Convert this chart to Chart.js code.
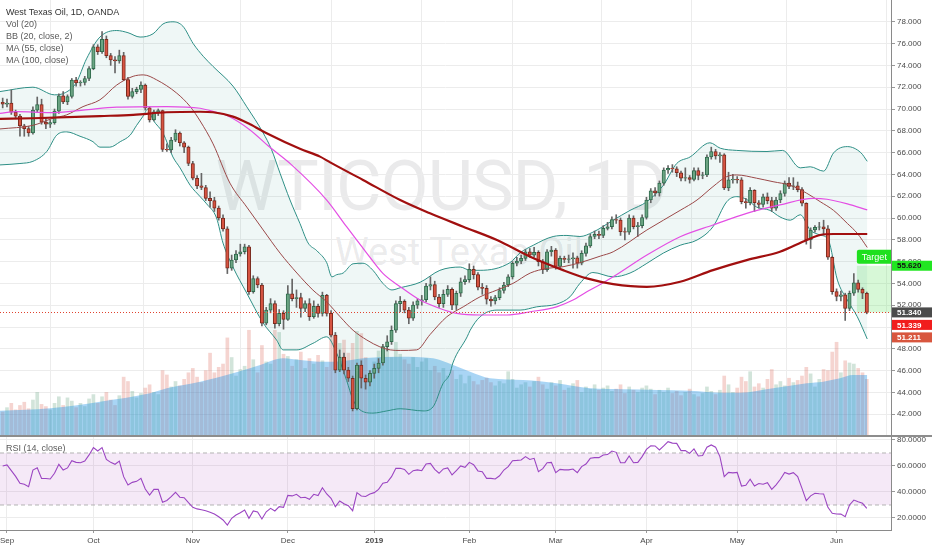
<!DOCTYPE html>
<html>
<head>
<meta charset="utf-8">
<title>West Texas Oil, 1D, OANDA</title>
<script src="https://cdn.jsdelivr.net/npm/chart.js@4.4.1/dist/chart.umd.min.js"></script>
<style>
  html, body { margin:0; padding:0; background:#ffffff; }
  #wrap { position:relative; width:932px; height:550px; overflow:hidden; background:#ffffff; font-family:"Liberation Sans", Arial, sans-serif; }
  #c1, #c2 { position:absolute; left:0; z-index:1; }
  #c1 { top:0; }
  #c2 { top:427px; }
  .wm { position:absolute; left:0; text-align:center; white-space:nowrap; color:rgba(60,60,70,0.11); font-family:Roboto, "Liberation Sans", sans-serif; z-index:0; line-height:1; }
  #wm1 { top:151px; width:882px; font-size:70px; letter-spacing:-1px; }
  #wm2 { top:233px; width:918px; font-size:38px; }
  .lg { position:absolute; left:6px; font-size:9px; line-height:12px; color:#5a5a5a; z-index:2; white-space:nowrap; }
  #sep { position:absolute; left:0; top:435px; width:932px; height:2px; background:#8d8d8d; z-index:3; }
</style>
</head>
<body>
<div id="wrap">
  <div class="wm" id="wm1">WTICOUSD, 1D</div>
  <div class="wm" id="wm2">West Texas Oil</div>
  <canvas id="c1" width="932" height="436"></canvas>
  <canvas id="c2" width="932" height="123"></canvas>
  <div id="sep"></div>
  <div class="lg" style="top:6px"><span style="color:#333">West Texas Oil, 1D, OANDA</span><br>Vol (20)<br>BB (20, close, 2)<br>MA (55, close)<br>MA (100, close)</div>
  <div class="lg" style="top:442px">RSI (14, close)</div>
</div>
<script>
// ---------------- DATA ----------------
const months = ['Sep','Oct','Nov','Dec','2019','Feb','Mar','Apr','May','Jun'];
const monthStart = [1,21,44,66,86,108,128,149,170,193];
const viewStart = -0.62, viewEnd = 205.6;

const open = [
70.62,70.45,70.55,69.7,69.35,68.45,68.2,67.8,69.9,70.4,
68.8,68.6,68.75,69.8,71.2,70.65,71.15,72.65,72.4,72.45,
72.8,73.7,75.7,75.25,76.4,74.9,74.5,74.4,74.9,72.7,
71.15,71.6,71.8,72.2,70.1,69.0,69.75,69.85,66.3,66.25,
67.15,67.8,66.9,66.5,65.0,63.65,62.95,62.8,61.8,61.6,
60.9,60.0,59.0,55.4,56.15,56.7,56.9,57.35,53.25,54.45,
53.85,50.35,51.55,52.15,50.3,51.25,50.7,53.05,52.6,52.7,
51.7,52.15,50.95,51.9,51.25,52.9,51.25,49.25,46.05,47.25,
46.05,45.3,42.5,46.5,45.3,44.95,45.75,46.2,46.7,48.2,
48.65,49.7,52.15,52.35,51.55,50.8,52.0,52.4,52.5,53.75,
53.9,52.75,52.15,53.0,53.45,52.0,53.1,54.15,54.35,55.3,
54.8,53.65,53.55,52.55,52.4,52.7,53.35,53.85,54.6,55.85,
56.05,56.3,56.9,56.6,56.85,56.0,55.25,56.9,57.05,55.55,
56.3,56.2,56.25,56.35,55.85,56.75,57.45,58.3,58.5,58.4,
59.05,59.2,59.85,59.8,58.75,58.7,60.0,59.2,59.3,60.05,
61.65,62.5,62.3,63.2,64.4,64.55,64.5,64.15,63.65,63.7,
63.55,64.35,63.9,63.95,65.6,66.1,65.7,65.8,62.75,63.5,
63.55,63.5,61.5,61.4,62.55,61.4,61.25,61.95,61.6,60.9,
61.65,62.25,63.2,62.9,62.95,62.6,61.35,58.0,58.9,59.15,
59.2,59.0,56.4,53.25,52.8,52.95,51.7,53.1,54.05,53.45,
53.1];
const high = [
71.0,70.9,71.75,69.9,69.5,68.6,68.4,70.2,71.1,70.9,
69.2,69.0,70.0,71.4,71.6,71.3,72.8,72.9,72.6,73.0,
73.9,75.9,75.9,77.1,76.7,75.1,74.8,75.4,75.2,72.9,
71.9,72.0,72.5,72.3,70.2,69.9,70.0,69.9,66.8,67.4,
68.1,67.9,67.0,66.6,65.2,63.9,64.1,63.0,62.4,61.9,
61.1,60.3,59.2,56.6,57.0,57.6,57.6,57.5,54.7,54.6,
54.0,51.8,52.6,52.4,51.6,51.5,53.8,54.4,53.4,53.1,
52.4,52.6,52.4,52.1,53.2,53.0,51.5,49.5,47.9,47.6,
46.3,45.5,46.7,46.9,45.6,46.0,46.6,47.1,48.4,49.2,
50.1,52.4,52.8,52.5,51.8,52.3,52.6,52.9,54.0,54.6,
54.2,53.0,53.4,53.8,53.6,53.3,54.5,54.7,55.8,55.6,
55.0,54.0,53.8,52.8,52.9,53.6,54.1,54.8,56.0,56.4,
56.6,57.1,57.2,57.3,57.0,56.2,57.1,57.4,57.2,56.5,
56.5,56.6,56.8,56.5,57.0,57.7,58.5,58.8,58.8,59.3,
59.6,60.1,60.3,60.0,59.1,60.3,60.2,59.6,60.3,61.9,
62.7,62.8,63.4,64.6,64.8,64.9,64.7,64.3,64.6,63.9,
64.6,64.6,64.2,65.8,66.5,66.3,66.0,65.9,64.2,64.0,
63.8,63.7,61.8,62.8,62.6,61.6,62.2,62.3,61.9,61.9,
62.5,63.4,63.7,63.7,63.3,62.8,61.4,59.1,59.3,59.6,
59.8,59.3,56.5,53.5,53.3,53.1,53.3,54.9,54.3,53.6,
53.2];
const low = [
70.1,70.2,69.5,69.1,67.5,67.5,67.5,67.7,69.7,68.6,
68.2,68.3,68.6,69.6,70.5,70.4,71.0,72.1,72.1,72.2,
72.6,73.6,75.0,75.1,74.7,74.0,73.3,74.2,72.6,70.9,
71.0,71.4,71.5,69.9,68.8,68.9,69.4,66.1,66.1,66.0,
67.0,66.6,66.0,64.8,63.5,62.7,62.6,61.6,61.0,60.6,
59.8,58.8,54.9,55.2,55.9,56.5,56.7,53.0,53.1,53.6,
50.1,50.2,51.3,49.9,50.1,49.8,50.6,52.4,51.8,50.9,
51.4,50.6,50.8,50.9,51.0,51.0,49.1,45.8,45.9,45.7,
45.0,42.3,42.4,44.4,44.3,44.6,45.3,45.8,46.5,47.8,
48.4,49.5,51.4,51.3,50.3,50.6,51.7,52.0,52.3,53.4,
52.5,51.8,51.8,52.8,51.6,51.6,52.8,53.9,54.1,54.4,
53.4,53.0,52.1,51.9,52.1,52.5,53.1,53.7,54.4,55.6,
55.8,56.1,56.4,56.4,55.6,54.9,55.1,56.5,55.3,55.4,
55.9,55.9,55.4,55.4,55.7,56.5,57.3,58.1,58.1,58.2,
58.9,59.0,59.5,58.4,58.0,58.5,59.0,58.3,59.1,59.9,
61.4,62.0,62.0,63.0,64.1,64.2,63.8,63.4,63.4,63.2,
63.4,63.5,63.6,63.8,65.4,65.4,65.1,62.6,62.5,63.2,
63.2,61.3,60.9,61.2,60.6,60.9,61.0,61.3,60.6,60.7,
61.4,62.0,62.7,62.6,62.4,61.1,57.6,57.2,58.7,58.9,
58.5,56.2,53.0,52.4,52.4,50.6,51.5,52.9,53.2,52.6,
51.21];
const close = [
70.45,70.55,69.7,69.35,68.45,68.2,67.8,69.9,70.4,68.8,
68.6,68.75,69.8,71.2,70.65,71.15,72.65,72.4,72.45,72.8,
73.7,75.7,75.25,76.4,74.9,74.5,74.4,74.9,72.7,71.15,
71.6,71.8,72.2,70.1,69.0,69.75,69.85,66.3,66.25,67.15,
67.8,66.9,66.5,65.0,63.65,62.95,62.8,61.8,61.6,60.9,
60.0,59.0,55.4,56.15,56.7,56.9,57.35,53.25,54.45,53.85,
50.35,51.55,52.15,50.3,51.25,50.7,53.05,52.6,52.7,51.7,
52.15,50.95,51.9,51.25,52.9,51.25,49.25,46.05,47.25,46.05,
45.3,42.5,46.5,45.3,44.95,45.75,46.2,46.7,48.2,48.65,
49.7,52.15,52.35,51.55,50.8,52.0,52.4,52.5,53.75,53.9,
52.75,52.15,53.0,53.45,52.0,53.1,54.15,54.35,55.3,54.8,
53.65,53.55,52.55,52.4,52.7,53.35,53.85,54.6,55.85,56.05,
56.3,56.9,56.6,56.85,56.0,55.25,56.9,57.05,55.55,56.3,
56.2,56.25,56.35,55.85,56.75,57.45,58.3,58.5,58.4,59.05,
59.2,59.85,59.8,58.75,58.7,60.0,59.2,59.3,60.05,61.65,
62.5,62.3,63.2,64.4,64.55,64.5,64.15,63.65,63.7,63.55,
64.35,63.9,63.95,65.6,66.1,65.7,65.8,62.75,63.5,63.55,
63.5,61.5,61.4,62.55,61.4,61.25,61.95,61.6,60.9,61.65,
62.25,63.2,62.9,62.95,62.6,61.35,58.0,58.9,59.15,59.2,
59.0,56.4,53.25,52.8,52.95,51.7,53.1,54.05,53.45,53.1,
51.34];
const volume = [
22,26,30,24,28,31,25,33,40,29,
27,24,30,36,28,35,32,26,30,27,
34,38,30,36,40,33,28,37,54,50,
41,35,39,44,47,40,38,60,56,45,
50,46,52,58,62,54,49,60,76,58,
63,66,90,72,55,61,64,97,70,58,
83,68,66,97,95,75,73,64,70,77,
62,71,66,74,69,63,97,92,85,88,
76,85,96,94,72,60,68,78,74,80,
72,86,75,70,66,72,63,68,71,60,
64,58,62,55,60,52,56,48,55,50,
47,51,53,49,46,50,48,59,52,44,
47,49,45,50,54,47,43,49,46,51,
42,44,48,51,40,45,43,47,42,44,
46,41,43,47,39,45,42,40,44,46,
43,38,42,40,44,39,41,37,40,43,
38,36,39,45,41,38,42,55,47,40,
44,54,50,59,45,48,44,52,61,47,
50,46,53,49,51,55,63,57,45,52,
61,60,77,86,58,69,67,66,62,58,
52];
const rsi = [
60.0,60.8,56.5,52.0,46.7,45.9,44.1,56.9,58.7,50.5,
50.4,50.0,54.4,61.3,56.9,58.5,64.1,62.8,62.5,63.8,
68.5,74.1,71.5,74.1,65.1,62.8,61.3,63.8,51.8,45.4,
47.4,48.2,50.5,42.3,37.7,42.0,42.0,32.1,33.5,36.4,
39.8,36.0,35.6,31.8,28.2,27.0,26.3,25.6,24.5,23.1,
21.0,18.5,14.6,19.8,22.3,24.0,26.2,19.8,25.4,24.6,
19.2,24.8,27.4,25.4,28.7,28.2,37.4,37.0,38.2,35.6,
36.0,34.4,38.2,37.2,43.3,38.5,35.1,28.7,33.1,31.0,
29.5,25.6,39.5,36.9,36.5,38.5,39.5,42.0,46.7,47.5,
51.8,58.2,58.2,57.4,53.6,56.4,57.0,56.4,61.5,62.0,
57.4,54.4,57.7,58.5,53.1,56.5,60.0,59.0,62.8,61.0,
56.2,55.6,50.5,50.5,50.0,52.5,56.9,59.5,64.1,64.3,
64.6,67.2,65.0,65.9,55.6,58.0,62.5,62.8,54.9,57.4,
57.0,57.0,57.7,54.9,59.5,61.5,65.9,66.4,66.4,68.5,
68.8,71.5,70.5,62.5,62.6,67.7,62.5,62.8,67.2,72.8,
75.6,75.4,72.3,75.4,78.7,77.6,77.4,71.8,71.8,69.7,
73.1,67.7,68.0,74.4,76.2,74.5,67.2,51.8,55.1,54.7,
55.1,44.6,45.2,49.8,44.6,46.5,46.0,47.2,42.0,45.5,
49.8,55.1,53.8,54.9,51.8,42.8,33.3,37.0,39.0,38.7,
38.5,28.2,23.6,23.1,23.0,21.0,30.0,33.8,32.5,31.3,
27.4];

// indicator lines: [bar index, value]
const bbUpper = [[-0.62,71.6],[7,72.0],[12,71.3],[14.5,71.5],[17,72.4],[19.4,74.6],[22.5,76.6],[26.4,77.2],[29,77.0],[31.8,76.6],[34.8,76.9],[37.1,77.8],[39.4,78.0],[41.7,77.6],[44.1,76.0],[46.5,74.8],[48.7,73.9],[53.3,72.1],[56.5,70.2],[60.3,67.8],[62.2,66.3],[64.2,64.1],[66.5,61.65],[68.8,59.5],[70.7,57.7],[72.7,57.0],[75.0,55.9],[76.2,54.6],[77.3,54.8],[78.8,54.95],[81.1,55.8],[83.4,55.85],[85.7,55.2],[88.0,54.0],[90.1,53.4],[92.0,53.6],[96.6,54.1],[101.2,55.2],[105.9,55.5],[108.2,55.2],[110.5,55.2],[117.4,55.9],[119.75,56.8],[122.8,57.5],[127.4,58.3],[130.6,58.4],[133.6,58.3],[136.6,58.7],[141.3,59.8],[145.2,60.7],[149.1,61.5],[152.9,63.0],[156.0,65.0],[159.1,65.6],[163.7,66.9],[166.1,66.4],[169.9,66.2],[176.9,66.1],[180.5,66.2],[184.6,64.6],[186.9,64.7],[190.0,64.3],[192.3,65.97],[195.5,66.55],[198.6,66.0],[200.1,65.2]];
const bbLower = [[-0.62,64.87],[4,65.0],[7,65.2],[10.2,66.1],[12.5,67.6],[14.8,67.9],[17.9,67.5],[20.9,67.0],[22.5,66.5],[24.8,66.5],[27.2,67.0],[29.5,67.6],[31.0,68.5],[32.6,69.4],[33.6,70.0],[34.8,69.0],[37.1,67.8],[39.4,65.6],[41.05,64.6],[43.4,63.0],[45.7,61.96],[47.2,61.3],[49.5,60.0],[51.0,57.7],[53.3,55.5],[56.5,53.1],[60.3,50.36],[63.4,48.8],[64.9,47.9],[68.1,47.9],[71.8,48.5],[75.0,49.1],[77.3,47.6],[79.6,45.1],[81.1,43.3],[82.7,42.4],[85.7,42.1],[88.9,42.3],[92.0,42.5],[97.3,42.3],[99.6,42.67],[101.9,44.8],[103.5,45.7],[104.2,46.7],[107.5,49.1],[108.2,49.7],[110.5,50.94],[114.4,51.55],[119.75,51.55],[123.6,51.85],[128.2,52.1],[131.3,52.77],[133.6,54.0],[136.6,55.0],[141.3,54.6],[145.2,54.95],[149.1,55.84],[152.9,56.78],[156.8,57.5],[160.7,57.98],[164.4,59.2],[167.6,61.5],[169.9,61.96],[172.2,61.7],[174.5,61.0],[177.6,60.7],[179.9,60.1],[182.3,59.8],[184.6,60.3],[186.9,58.9],[189.2,58.44],[191.1,57.98],[193.2,54.3],[195.5,52.47],[197.8,50.94],[200.1,48.9]];
const bbBasis = [[-0.62,68.17],[7,68.5],[11.65,69.15],[14.8,69.46],[18.6,70.22],[22.5,70.84],[26.4,72.2],[30.2,73.0],[32.6,73.13],[35.65,72.67],[40.3,71.45],[43.4,70.22],[45.7,68.9],[48.7,66.8],[52.6,63.2],[56.5,61.0],[60.3,58.9],[64.2,56.78],[68.1,54.95],[71.8,53.39],[75.0,52.3],[78.1,50.94],[81.1,49.7],[84.3,48.8],[87.3,48.18],[89.7,47.9],[92.0,47.85],[95.8,47.9],[98.9,49.3],[102.8,50.94],[106.6,51.85],[110.5,52.77],[114.4,53.39],[118.1,54.0],[122.1,54.95],[126.0,55.38],[129.7,55.53],[133.6,55.9],[138.3,56.5],[141.3,56.9],[149.1,58.9],[156.8,60.7],[160.7,61.65],[164.4,62.88],[167.6,63.8],[169.9,63.95],[174.5,63.65],[178.3,63.33],[182.3,63.0],[186.1,62.27],[189.2,61.5],[192.3,60.7],[195.5,59.5],[197.8,58.59],[200.1,57.3]];
const ma55 = [[-0.62,69.6],[3.25,69.76],[10.95,69.67],[18.6,69.9],[26.4,70.17],[37.97,70.22],[45.7,70.07],[48,69.85],[51.9,69.4],[57.25,68.08],[61.5,66.6],[66.8,64.9],[75.0,61.65],[79.6,59.2],[84.3,56.76],[88.0,54.92],[92.0,53.7],[96.6,52.47],[101.2,51.7],[105.1,51.25],[110.5,51.1],[116.7,51.1],[122.1,51.4],[128.2,51.85],[132.0,52.47],[135.2,53.23],[138.3,53.9],[141.3,54.6],[149.1,56.6],[156.8,58.28],[164.4,59.36],[172.2,60.43],[179.9,61.2],[187.6,61.8],[190.8,61.72],[195.5,61.3],[200.1,60.74]];
const ma100 = [[-0.62,69.1],[7,69.15],[22.5,69.35],[30.2,69.46],[37.97,69.7],[45.7,69.75],[48.7,69.7],[53.3,69.3],[57.25,68.6],[61.1,67.78],[68.8,66.35],[73.45,65.63],[75.8,65.1],[83.4,63.49],[92.0,61.65],[98.9,60.43],[106.6,59.2],[114.4,57.98],[122.1,56.45],[129.7,55.22],[135.2,54.46],[141.3,53.94],[149.1,53.69],[156.8,54.15],[164.4,55.22],[172.2,56.14],[179.9,56.9],[186.1,57.98],[189.2,58.44],[192.3,58.53],[200.1,58.53]];
const volMA = [[-0.62,23.2],[11,25.4],[22.5,31.5],[34.1,39.2],[38,43.7],[45.7,49.8],[53.3,57.5],[59.6,65.1],[64.9,71.3],[68.8,69.7],[73.45,68.1],[76.5,68.1],[84,71.5],[92.0,72.7],[99.6,71.3],[101.2,69.7],[108.2,59.0],[112.8,52.9],[120.5,51.3],[128.2,48.3],[136.0,43.7],[143.6,42.8],[151.4,42.2],[159.1,41.5],[166.8,39.7],[170.7,39.7],[178.3,43.7],[186.1,48.3],[189.9,49.8],[193.8,52.9],[196.8,55.9],[200.1,55.9]];

const priceTicks = [42,44,46,48,50,52,54,56,58,60,62,64,66,68,70,72,74,76,78];
const rsiTicks = [20,40,60,80];
const rsiLevels = [70,30];
const lastPrice = 51.34, targetPrice = 55.62, targetStart = 197.7;
const tagValues = [55.62, 51.34, 51.339, 51.211];

// ---------------- STYLE ----------------
const tagFill = ['#22e622', '#4b4b4b', '#f11d1d', '#d8563e'];
const tagInk  = ['#111111', '#ffffff', '#ffffff', '#ffffff'];
Chart.defaults.font.family = '"Liberation Sans", Arial, sans-serif';
Chart.defaults.font.size = 8;
Chart.defaults.color = '#4a4a4a';

const idx = close.map((_, i) => i);
const up = i => close[i] >= open[i];
const pts = arr => arr.map(p => ({x: p[0], y: p[1]}));
const lineDs = (data, color, width, order, extra) => Object.assign({
  type: 'line', data: pts(data), borderColor: color, borderWidth: width,
  pointRadius: 0, fill: false, cubicInterpolationMode: 'monotone', order: order, yAxisID: 'y'
}, extra || {});

const overlayPlugin = {
  id: 'priceOverlay',
  beforeDatasetsDraw(chart) {
    const {ctx, chartArea: a, scales: {x, y}} = chart;
    const zl = x.getPixelForValue(targetStart);
    const yt = y.getPixelForValue(targetPrice);
    const yb = y.getPixelForValue(lastPrice);
    ctx.save();
    ctx.fillStyle = 'rgba(95,228,95,0.25)';
    ctx.fillRect(zl, yt, a.right - zl, yb - yt);
    ctx.restore();
  },
  afterDatasetsDraw(chart) {
    const {ctx, chartArea: a, scales: {x, y}} = chart;
    const yl = Math.round(y.getPixelForValue(lastPrice)) + 0.5;
    ctx.save();
    ctx.strokeStyle = '#e0432f';
    ctx.lineWidth = 1;
    ctx.setLineDash([1, 2]);
    ctx.beginPath(); ctx.moveTo(a.left, yl); ctx.lineTo(a.right, yl); ctx.stroke();
    ctx.setLineDash([]);
    const zl = x.getPixelForValue(targetStart);
    const yt = y.getPixelForValue(targetPrice);
    ctx.beginPath(); ctx.rect(a.left, a.top, a.right - a.left, a.bottom - a.top); ctx.clip();
    ctx.fillStyle = '#1fe01f';
    ctx.beginPath();
    if (ctx.roundRect) ctx.roundRect(zl, yt - 16, 44, 14, 2); else ctx.rect(zl, yt - 16, 44, 14);
    ctx.fill();
    ctx.fillStyle = '#ffffff';
    ctx.font = '9px "Liberation Sans", Arial, sans-serif';
    ctx.textBaseline = 'middle';
    ctx.fillText('Target', zl + 5, yt - 8.5);
    ctx.restore();
  },
  afterDraw(chart) {
    const {ctx, chartArea: a, scales: {y}} = chart;
    ctx.save();
    ctx.font = 'bold 8px "Liberation Sans", Arial, sans-serif';
    ctx.textBaseline = 'middle';
    const h = 10, gap = 2.5;
    let prevBottom = -Infinity;
    tagValues.forEach((v, k) => {
      let cy = y.getPixelForValue(v);
      if (cy - h / 2 < prevBottom + gap) cy = prevBottom + gap + h / 2;
      prevBottom = cy + h / 2;
      ctx.fillStyle = tagFill[k];
      ctx.fillRect(a.right + 1, cy - h / 2, chart.width - a.right - 1, h);
      ctx.fillStyle = tagInk[k];
      ctx.fillText(v.toFixed(3), a.right + 6, cy + 0.5);
    });
    ctx.restore();
  }
};

// ---------------- MAIN PANE ----------------
new Chart(document.getElementById('c1'), {
  type: 'bar',
  data: {
    datasets: [
      { type: 'bar', yAxisID: 'yv', order: 20, grouped: false, barThickness: 3,
        data: idx.map(i => ({x: i, y: volume[i]})),
        backgroundColor: idx.map(i => up(i) ? 'rgba(107,165,131,0.30)' : 'rgba(215,84,66,0.25)') },
      { type: 'line', yAxisID: 'yv', order: 19, data: pts(volMA), borderWidth: 0, pointRadius: 0,
        fill: 'origin', backgroundColor: 'rgba(30,144,230,0.38)', cubicInterpolationMode: 'monotone' },
      lineDs(bbUpper, '#2e8f86', 1, 12, { fill: '+1', backgroundColor: 'rgba(25,140,130,0.07)' }),
      lineDs(bbLower, '#2e8f86', 1, 12),
      { type: 'bar', yAxisID: 'y', order: 9, grouped: false, barThickness: 1,
        data: idx.map(i => ({x: i, y: [low[i], high[i]]})),
        backgroundColor: '#666666' },
      { type: 'bar', yAxisID: 'y', order: 8, grouped: false, barThickness: 3.4, borderWidth: 1, borderSkipped: false,
        data: idx.map(i => ({x: i, y: [open[i], close[i]]})),
        backgroundColor: idx.map(i => up(i) ? '#6ba583' : '#d75442'),
        borderColor: idx.map(i => up(i) ? '#2f6a4c' : '#7a2a1e') },
      lineDs(bbBasis, '#9a4848', 1, 3),
      lineDs(ma55, '#e44ee4', 1.2, 2),
      lineDs(ma100, '#a10f0f', 2.2, 1)
    ]
  },
  options: {
    responsive: false, animation: false, events: [],
    layout: { padding: 0 },
    plugins: { legend: { display: false }, tooltip: { enabled: false } },
    scales: {
      x: {
        type: 'linear', min: viewStart, max: viewEnd, offset: false,
        afterBuildTicks: s => { s.ticks = monthStart.map(v => ({value: v})); },
        ticks: { display: false },
        grid: { color: '#ececec', drawTicks: false },
        border: { display: false },
        afterFit: s => { s.height = 0; s.paddingLeft = 0; s.paddingRight = 0; }
      },
      y: {
        type: 'linear', position: 'right', min: 40, max: 80,
        afterBuildTicks: s => { s.ticks = priceTicks.map(v => ({value: v})); },
        ticks: { callback: v => Number(v).toFixed(3), autoSkip: false, padding: 2, color: '#4a4a4a', font: { size: 8 } },
        grid: { color: '#ececec', tickColor: '#999999', tickLength: 4 },
        border: { color: '#8a8a8a' },
        afterFit: s => { s.width = 41; s.paddingTop = 0; s.paddingBottom = 0; }
      },
      yv: { type: 'linear', display: false, min: 0, max: 400 }
    }
  },
  plugins: [overlayPlugin]
});

// ---------------- RSI PANE ----------------
new Chart(document.getElementById('c2'), {
  type: 'line',
  data: {
    datasets: [
      { data: [{x: viewStart, y: rsiLevels[0]}, {x: viewEnd, y: rsiLevels[0]}], borderColor: '#b4b4b4', borderWidth: 1,
        borderDash: [4, 3], pointRadius: 0, fill: '+1', backgroundColor: 'rgba(156,39,176,0.10)', order: 3 },
      { data: [{x: viewStart, y: rsiLevels[1]}, {x: viewEnd, y: rsiLevels[1]}], borderColor: '#b4b4b4', borderWidth: 1,
        borderDash: [4, 3], pointRadius: 0, fill: false, order: 2 },
      { data: idx.map(i => ({x: i, y: rsi[i]})), borderColor: '#9b45c2', borderWidth: 1.1, pointRadius: 0,
        fill: false, tension: 0, order: 1 }
    ]
  },
  options: {
    responsive: false, animation: false, events: [],
    layout: { padding: { top: 10, left: 0, right: 0, bottom: 0 } },
    plugins: { legend: { display: false }, tooltip: { enabled: false } },
    scales: {
      x: {
        type: 'linear', min: viewStart, max: viewEnd, offset: false,
        afterBuildTicks: s => { s.ticks = monthStart.map(v => ({value: v})); },
        ticks: {
          autoSkip: false, maxRotation: 0, padding: 3, color: '#4a4a4a',
          callback: (v, i) => months[i],
          font: c => ({ size: 8, weight: months[c.index] === '2019' ? 'bold' : 'normal' })
        },
        grid: { color: '#ececec', tickColor: '#999999', tickLength: 3 },
        border: { color: '#8a8a8a' },
        afterFit: s => { s.height = 20; s.paddingLeft = 0; s.paddingRight = 0; }
      },
      y: {
        type: 'linear', position: 'right', min: 10.77, max: 82.3,
        afterBuildTicks: s => { s.ticks = rsiTicks.map(v => ({value: v})); },
        ticks: { callback: v => Number(v).toFixed(4), autoSkip: false, padding: 2, color: '#4a4a4a', font: { size: 8 } },
        grid: { color: '#ececec', tickColor: '#999999', tickLength: 4 },
        border: { color: '#8a8a8a' },
        afterFit: s => { s.width = 41; s.paddingTop = 0; s.paddingBottom = 0; }
      }
    }
  }
});
</script>
</body>
</html>
